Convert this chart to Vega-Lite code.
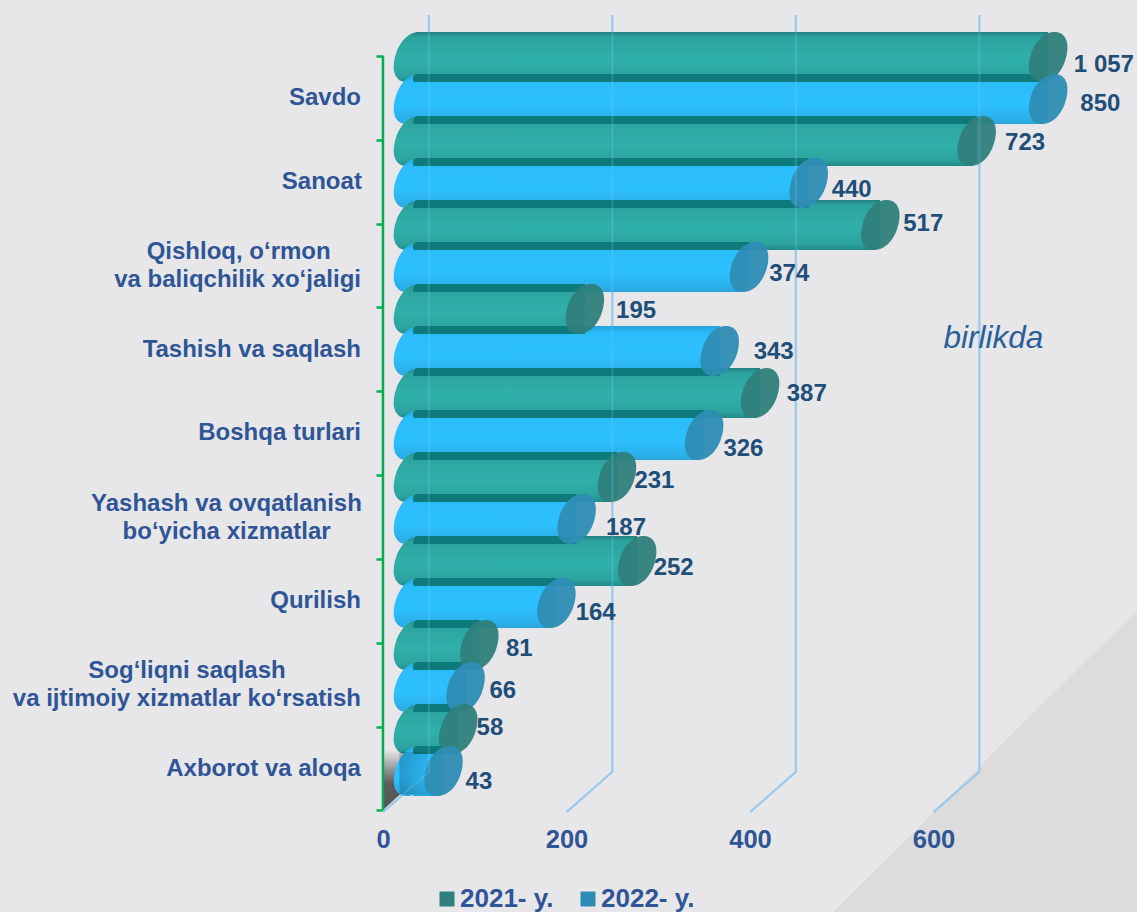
{"$schema":"https://vega.github.io/schema/vega-lite/v6.json","width":1137,"height":912,"padding":0,"autosize":{"type":"none"},"background":"#e7e7e9","config":{"view":{"stroke":null},"font":"Liberation Sans"},
"resolve":{"axis":{"x":"independent","y":"independent"}},
"datasets":{"bars":[
{"category":"Savdo","year":"2021- y.","value":"1 057","pos":0,"length":725,"start":32.7,"labelX":753,"labelRow":0.19},
{"category":"Savdo","year":"2022- y.","value":"850","pos":1,"length":725,"start":32.7,"labelX":760,"labelRow":1.12},
{"category":"Sanoat","year":"2021- y.","value":"723","pos":2,"length":647,"start":32.7,"labelX":678,"labelRow":2.05},
{"category":"Sanoat","year":"2022- y.","value":"440","pos":3,"length":464,"start":32.7,"labelX":489,"labelRow":3.17},
{"category":"Qishloq, o‘rmon va baliqchilik xo‘jaligi","year":"2021- y.","value":"517","pos":4,"length":542,"start":32.7,"labelX":567,"labelRow":3.98},
{"category":"Qishloq, o‘rmon va baliqchilik xo‘jaligi","year":"2022- y.","value":"374","pos":5,"length":399,"start":32.7,"labelX":421,"labelRow":5.17},
{"category":"Tashish va saqlash","year":"2021- y.","value":"195","pos":6,"length":220,"start":32.7,"labelX":254,"labelRow":6.05},
{"category":"Tashish va saqlash","year":"2022- y.","value":"343","pos":7,"length":367,"start":32.7,"labelX":404,"labelRow":7.03},
{"category":"Boshqa turlari","year":"2021- y.","value":"387","pos":8,"length":411,"start":32.7,"labelX":440,"labelRow":8.03},
{"category":"Boshqa turlari","year":"2022- y.","value":"326","pos":9,"length":350,"start":32.7,"labelX":371,"labelRow":9.34},
{"category":"Yashash va ovqatlanish bo‘yicha xizmatlar","year":"2021- y.","value":"231","pos":10,"length":255,"start":32.7,"labelX":274,"labelRow":10.1},
{"category":"Yashash va ovqatlanish bo‘yicha xizmatlar","year":"2022- y.","value":"187","pos":11,"length":211,"start":32.7,"labelX":243,"labelRow":11.22},
{"category":"Qurilish","year":"2021- y.","value":"252","pos":12,"length":277,"start":32.7,"labelX":295,"labelRow":12.17},
{"category":"Qurilish","year":"2022- y.","value":"164","pos":13,"length":189,"start":32.7,"labelX":210,"labelRow":13.24},
{"category":"Sog‘liqni saqlash va ijtimoiy xizmatlar ko‘rsatish","year":"2021- y.","value":"81","pos":14,"length":105,"start":32.7,"labelX":134,"labelRow":14.1},
{"category":"Sog‘liqni saqlash va ijtimoiy xizmatlar ko‘rsatish","year":"2022- y.","value":"66","pos":15,"length":90,"start":32.7,"labelX":116,"labelRow":15.1},
{"category":"Axborot va aloqa","year":"2021- y.","value":"58","pos":16,"length":82,"start":32.7,"labelX":102,"labelRow":15.98},
{"category":"Axborot va aloqa","year":"2022- y.","value":"43","pos":17,"length":66,"start":32.7,"labelX":90,"labelRow":17.26}
],
"grid":[{"grid":0,"x":50,"row":-1,"o":1},{"grid":0,"x":50,"row":17.02,"o":2},{"grid":0,"x":0,"row":17.98,"o":3},{"grid":200,"x":250,"row":-1,"o":1},{"grid":200,"x":250,"row":17.02,"o":2},{"grid":200,"x":200,"row":17.98,"o":3},{"grid":400,"x":450,"row":-1,"o":1},{"grid":400,"x":450,"row":17.02,"o":2},{"grid":400,"x":400,"row":17.98,"o":3},{"grid":600,"x":650,"row":-1,"o":1},{"grid":600,"x":650,"row":17.02,"o":2},{"grid":600,"x":600,"row":17.98,"o":3}]},
"layer":[
{"data":{"values":[{"x":490.5,"top":20.36,"bottom":20.36},{"x":821.8,"top":13.17,"bottom":20.36}]},
"mark":{"type":"area","color":"#dcdcdc"},
"encoding":{"x":{"field":"x","type":"quantitative","scale":{"domain":[-417.4,821.8],"nice":false,"zero":false,"padding":0},"axis":{"values":[0,200,400,600],"title":null,"grid":false,"domain":false,"ticks":false,"offset":-73,"zindex":1,"labelPadding":0,"labelBaseline":"middle","labelFontSize":25.5,"labelFontWeight":"bold","labelColor":"#2f5597","labelFont":"Liberation Sans","labelFlush":false,"labelOverlap":false}},
"y":{"field":"top","type":"quantitative","scale":{"domain":[-1.357,20.357],"reverse":true,"nice":false,"zero":false,"padding":0},"axis":{"values":[-0.02,1.97,3.97,5.96,7.95,9.95,11.95,13.95,15.95,17.93],"title":null,"grid":false,"domain":false,"labels":false,"ticks":true,"tickColor":"#00b050","tickWidth":2.5,"tickSize":7,"offset":-383}},"y2":{"field":"bottom"}}},
{"data":{"values":[{"x":0,"top":16.5,"bottom":17.93},{"x":30,"top":16.5,"bottom":17.33}]},
"mark":{"type":"area","color":{"gradient":"linear","x1":0,"y1":0,"x2":0,"y2":1,"stops":[{"offset":0,"color":"#e7e7e9"},{"offset":0.55,"color":"#5c5c5c"},{"offset":1,"color":"#555555"}]}},
"encoding":{"x":{"field":"x","type":"quantitative","axis":null},"y":{"field":"top","type":"quantitative","axis":null},"y2":{"field":"bottom"}}},
{"data":{"name":"grid"},
"mark":{"type":"line","color":"#a3c8ea","strokeWidth":2.2},
"encoding":{"x":{"field":"x","type":"quantitative","axis":null},"y":{"field":"row","type":"quantitative","axis":null},"detail":{"field":"grid"},"order":{"field":"o"}}},
{"data":{"values":[{"a":0,"from":-0.02,"to":17.93}]},"mark":{"type":"rule","color":"#00b050","strokeWidth":2.5},
"encoding":{"x":{"field":"a","type":"quantitative","axis":null},"y":{"field":"from","type":"quantitative","axis":null},"y2":{"field":"to"}}},
{"data":{"name":"bars"},
"mark":{"type":"point","filled":true,"size":2500,"opacity":1,"shape":"M0.72 0C0.87 -0.6 0.682 -1 0.25 -1C-0.182 -1 -0.57 -0.6 -0.72 0C-0.87 0.6 -0.682 1 -0.25 1C0.182 1 0.57 0.6 0.72 0Z"},
"encoding":{"x":{"field":"start","type":"quantitative","axis":null},"y":{"field":"pos","type":"quantitative","axis":null},
"color":{"condition":{"test":"datum.year==='2021- y.'","value":
{"gradient":"linear","x1":0,"y1":0,"x2":0,"y2":1,"stops":[{"offset":0,"color":"#24807d"},{"offset":0.1,"color":"#2ca39e"},{"offset":0.55,"color":"#30b0aa"},{"offset":0.88,"color":"#2ca39e"},{"offset":1,"color":"#1f8a87"}]}},"value":
{"gradient":"linear","x1":0,"y1":0,"x2":0,"y2":1,"stops":[{"offset":0,"color":"#25a3dc"},{"offset":0.15,"color":"#2bbcfb"},{"offset":0.6,"color":"#2dc0ff"},{"offset":0.9,"color":"#2bb0e9"},{"offset":1,"color":"#2aa3d8"}]}}}},
{"data":{"name":"bars"},
"mark":{"type":"bar","orient":"horizontal","size":50,"cornerRadiusTopLeft":8,"cornerRadiusBottomRight":8},
"encoding":{"x":{"field":"length","type":"quantitative","axis":null},"x2":{"field":"start"},"y":{"field":"pos","type":"quantitative","axis":null},
"color":{"condition":{"test":"datum.year==='2021- y.'","value":
{"gradient":"linear","x1":0,"y1":0,"x2":0,"y2":1,"stops":[{"offset":0,"color":"#24807d"},{"offset":0.1,"color":"#2ca39e"},{"offset":0.55,"color":"#30b0aa"},{"offset":0.88,"color":"#2ca39e"},{"offset":1,"color":"#1f8a87"}]}},"value":
{"gradient":"linear","x1":0,"y1":0,"x2":0,"y2":1,"stops":[{"offset":0,"color":"#25a3dc"},{"offset":0.15,"color":"#2bbcfb"},{"offset":0.6,"color":"#2dc0ff"},{"offset":0.9,"color":"#2bb0e9"},{"offset":1,"color":"#2aa3d8"}]}}}},
{"data":{"values":[{"pos":0.5,"length":725},{"pos":1.5,"length":647},{"pos":2.5,"length":464},{"pos":3.5,"length":464},{"pos":4.5,"length":399},{"pos":5.5,"length":220},{"pos":6.5,"length":220},{"pos":7.5,"length":367},{"pos":8.5,"length":350},{"pos":9.5,"length":255},{"pos":10.5,"length":211},{"pos":11.5,"length":211},{"pos":12.5,"length":189},{"pos":13.5,"length":105},{"pos":14.5,"length":90},{"pos":15.5,"length":82},{"pos":16.5,"length":66}]},
"mark":{"type":"bar","orient":"horizontal","size":8,"color":"#0d7a7c","cornerRadiusTopLeft":8},
"encoding":{"x":{"field":"length","type":"quantitative","axis":null},"x2":{"datum":33},"y":{"field":"pos","type":"quantitative","axis":null}}},
{"data":{"values":[{"x":18,"top":16.55,"bottom":17.55},{"x":60,"top":16.55,"bottom":17.55}]},
"mark":{"type":"area","color":{"gradient":"linear","x1":0,"y1":0,"x2":1,"y2":0,"stops":[{"offset":0,"color":"rgba(0,0,0,0.2)"},{"offset":1,"color":"rgba(0,0,0,0)"}]}},
"encoding":{"x":{"field":"x","type":"quantitative","axis":null},"y":{"field":"top","type":"quantitative","axis":null},"y2":{"field":"bottom"}}},
{"data":{"name":"bars"},
"mark":{"type":"point","filled":true,"size":2500,"opacity":0.95,"shape":"M0.72 0C0.87 -0.6 0.682 -1 0.25 -1C-0.182 -1 -0.57 -0.6 -0.72 0C-0.87 0.6 -0.682 1 -0.25 1C0.182 1 0.57 0.6 0.72 0Z"},
"encoding":{"x":{"field":"length","type":"quantitative","axis":null},"y":{"field":"pos","type":"quantitative","axis":null},
"color":{"field":"year","type":"nominal","scale":{"domain":["2021- y.","2022- y."],"range":["#2f7f7c","#2e8db4"]},
"legend":{"orient":"none","legendX":434,"legendY":886,"direction":"horizontal","title":null,"symbolType":"square","symbolSize":225,"symbolOpacity":1,"symbolStrokeWidth":0,"labelFontSize":26,"labelFontWeight":"bold","labelColor":"#2f5597","labelFont":"Liberation Sans","columnPadding":21,"labelOffset":0}}}},
{"data":{"name":"grid"},
"mark":{"type":"line","color":"#7fd0ff","strokeWidth":2.2,"opacity":0.22},
"encoding":{"x":{"field":"x","type":"quantitative","axis":null},"y":{"field":"row","type":"quantitative","axis":null},"detail":{"field":"grid"},"order":{"field":"o"}}},
{"data":{"name":"bars"},
"mark":{"type":"text","align":"left","baseline":"middle","font":"Liberation Sans","fontWeight":"bold","fontSize":24,"color":"#1f4e79"},
"encoding":{"x":{"field":"labelX","type":"quantitative","axis":null},"y":{"field":"labelRow","type":"quantitative","axis":null},"text":{"field":"value"}}},
{"data":{"values":[
{"line":"Savdo","end":-24,"row":0.98},{"line":"Sanoat","end":-23,"row":2.98},{"line":"Qishloq, o‘rmon","end":-57,"row":4.65},{"line":"va baliqchilik xo‘jaligi","end":-24,"row":5.32},{"line":"Tashish va saqlash","end":-24,"row":6.98},{"line":"Boshqa turlari","end":-24,"row":8.96},{"line":"Yashash va ovqatlanish","end":-23,"row":10.65},{"line":"bo‘yicha xizmatlar","end":-57,"row":11.32},{"line":"Qurilish","end":-24,"row":12.96},{"line":"Sog‘liqni saqlash","end":-106,"row":14.63},{"line":"va ijtimoiy xizmatlar ko‘rsatish","end":-24,"row":15.29},{"line":"Axborot va aloqa","end":-24,"row":16.96}]},
"mark":{"type":"text","align":"right","baseline":"middle","font":"Liberation Sans","fontWeight":"bold","fontSize":24,"color":"#2f5597"},
"encoding":{"x":{"field":"end","type":"quantitative","axis":null},"y":{"field":"row","type":"quantitative","axis":null},"text":{"field":"line"}}},
{"data":{"values":[{"t":"birlikda","x":611,"row":6.72}]},
"mark":{"type":"text","align":"left","baseline":"middle","font":"Liberation Sans","fontStyle":"italic","fontSize":31.5,"color":"#2a6099"},
"encoding":{"x":{"field":"x","type":"quantitative","axis":null},"y":{"field":"row","type":"quantitative","axis":null},"text":{"field":"t"}}}
]}
